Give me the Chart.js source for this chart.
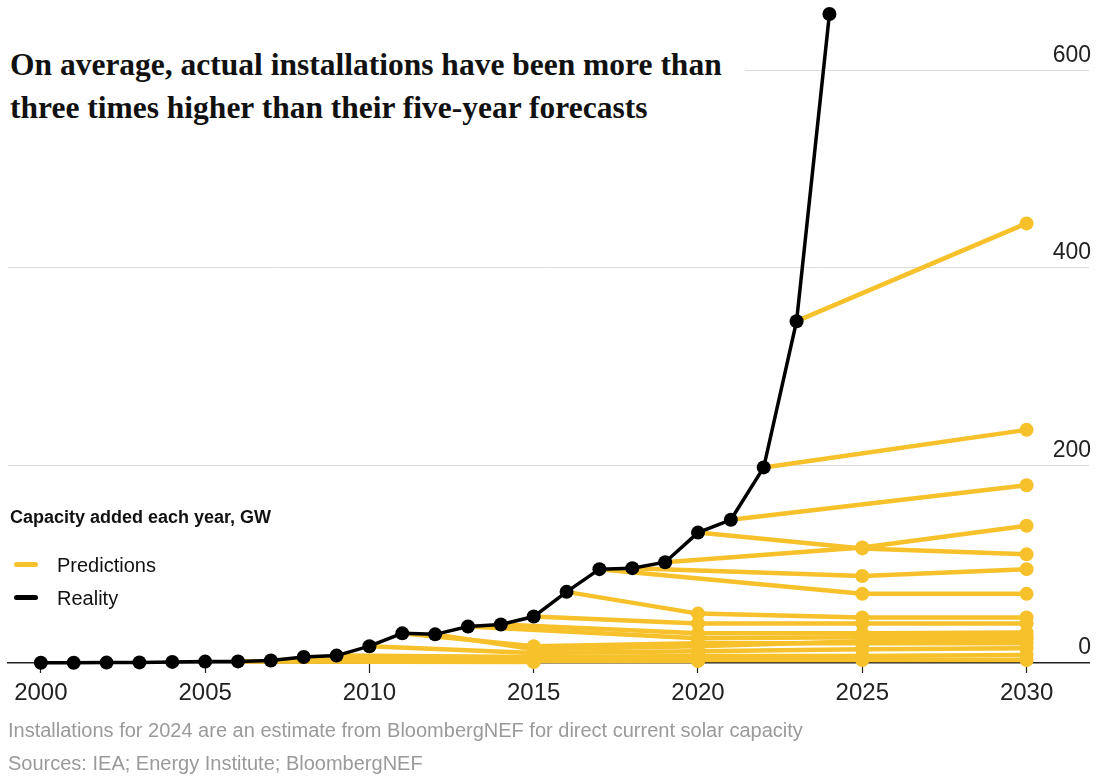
<!DOCTYPE html>
<html>
<head>
<meta charset="utf-8">
<script src="https://cdn.jsdelivr.net/npm/chart.js@4.4.1/dist/chart.umd.min.js"></script>
<style>
  html, body { margin: 0; padding: 0; background: #fff; }
  #wrap { position: relative; width: 1096px; height: 778px; overflow: hidden; }
  #chart { position: absolute; left: 0; top: 0; }
  .title {
    position: absolute; left: 10px; top: 43px;
    font-family: 'Liberation Serif', 'Times New Roman', serif;
    font-weight: 700; font-size: 31.5px; line-height: 43px; color: #111;
    background: #fff; padding-right: 23px;
  }
  .sans { font-family: 'Liberation Sans', Arial, sans-serif; }
  .units { position: absolute; left: 10px; top: 507px; font-size: 18px; font-weight: 700; color: #111; }
  .legend { position: absolute; left: 14px; font-size: 20px; color: #111; line-height: 24px; }
  .legend i { display: inline-block; width: 24px; height: 5px; border-radius: 3px; vertical-align: middle; margin-right: 19px; position: relative; top: -2px; }
  .note { position: absolute; left: 8px; font-size: 20px; color: #9a9a9a; }
</style>
</head>
<body>
<div id="wrap">
  <canvas id="chart" width="1096" height="778"></canvas>
  <div class="title">On average, actual installations have been more than<br>three times higher than their five-year forecasts</div>
  <div class="units sans">Capacity added each year, GW</div>
  <div class="legend sans" style="top:553px"><i style="background:#F6C12B"></i>Predictions</div>
  <div class="legend sans" style="top:586px"><i style="background:#000"></i>Reality</div>
  <div class="note sans" style="top:719px">Installations for 2024 are an estimate from BloombergNEF for direct current solar capacity</div>
  <div class="note sans" style="top:752px">Sources: IEA; Energy Institute; BloombergNEF</div>
</div>
<script>
// Solar capacity added each year, GW
const years = [2000, 2001, 2002, 2003, 2004, 2005, 2006, 2007, 2008, 2009, 2010, 2011,
  2012, 2013, 2014, 2015, 2016, 2017, 2018, 2019, 2020, 2021, 2022, 2023, 2024];
const installed = [0.2, 0.3, 0.4, 0.6, 1.1, 1.4, 1.6, 2.5, 6, 7.5, 17, 30,
  29, 37, 39, 47, 72, 95, 96, 102, 132, 145, 198, 346, 657];

// Forecast targets and what each year's outlook expected for them
const targetYears = [2015, 2020, 2025, 2030];
const forecastMade = [2006, 2007, 2008, 2009, 2010, 2011, 2012, 2013, 2014,
  2015, 2016, 2017, 2018, 2019, 2020, 2021, 2022, 2023];
const forecastValues = [
  [1, null, null, null],
  [2, 2, null, null],
  [4, 3, 3, 3],
  [6, 7, 7, 8],
  [10, 12, 14, 15],
  [17, 20, 20, 20],
  [14, 17, 22, 24],
  [null, 25, 26, 27],
  [null, 30, 30, 31],
  [null, 40, 40, 40],
  [null, 50, 46, 46],
  [null, null, 70, 70],
  [null, null, 88, 95],
  [null, null, 117, 139],
  [null, null, 116, 110],
  [null, null, null, 180],
  [null, null, null, 236],
  [null, null, null, 445]
];

const xTicks = [2000, 2005, 2010, 2015, 2020, 2025, 2030];
const yTicks = [0, 200, 400, 600];

const YELLOW = '#F6C12B';
const SANS = "'Liberation Sans', Arial, sans-serif";

const realityPoints = years.map((yr, i) => ({ x: yr, y: installed[i] }));

const forecastSets = forecastMade.map((yr, i) => {
  const pts = [{ x: yr, y: installed[years.indexOf(yr)] }];
  forecastValues[i].forEach((v, j) => {
    if (v !== null) pts.push({ x: targetYears[j], y: v });
  });
  return {
    data: pts,
    borderColor: YELLOW,
    backgroundColor: YELLOW,
    borderWidth: 4.5,
    pointRadius: pts.map((p, k) => (k === 0 ? 0 : 7)),
    pointBorderWidth: 0,
    clip: false
  };
});

// keep the plot area fixed: no extra room reserved for overhanging labels
const noOverhang = s => {
  s.paddingTop = 0; s.paddingBottom = 0; s.paddingLeft = 0; s.paddingRight = 0;
};

new Chart(document.getElementById('chart'), {
  type: 'line',
  data: {
    datasets: [
      {
        data: realityPoints,
        borderColor: '#000',
        backgroundColor: '#000',
        borderWidth: 3.5,
        pointRadius: 7,
        pointBorderWidth: 0,
        clip: false
      },
      ...forecastSets
    ]
  },
  options: {
    responsive: false,
    animation: false,
    events: [],
    layout: { padding: { left: 8, right: 0, top: 11, bottom: 0 } },
    plugins: { legend: { display: false }, tooltip: { enabled: false } },
    scales: {
      x: {
        type: 'linear',
        min: 1999,
        max: 2031.9,
        afterBuildTicks: s => { s.ticks = xTicks.map(v => ({ value: v })); },
        afterFit: s => { s.height = 115; noOverhang(s); },
        border: { display: true, color: '#222', width: 1.5 },
        grid: { drawOnChartArea: false, drawTicks: true, tickLength: 10, tickColor: '#222', tickWidth: 1.2 },
        ticks: {
          color: '#222', padding: 6, maxRotation: 0, autoSkip: false,
          font: { family: SANS, size: 24 },
          callback: v => String(v)
        }
      },
      y: {
        position: 'right',
        min: 0,
        max: 660,
        afterBuildTicks: s => { s.ticks = yTicks.map(v => ({ value: v })); },
        afterFit: s => { s.width = 0; noOverhang(s); },
        border: { display: false },
        grid: {
          drawTicks: false,
          lineWidth: 1,
          color: c => (c.tick && c.tick.value === 0 ? 'rgba(0,0,0,0)' : '#dcdcdc')
        },
        ticks: {
          mirror: true, padding: 2, labelOffset: -15,
          color: '#222', font: { family: SANS, size: 23 },
          callback: v => String(v)
        }
      }
    }
  }
});
</script>
</body>
</html>
